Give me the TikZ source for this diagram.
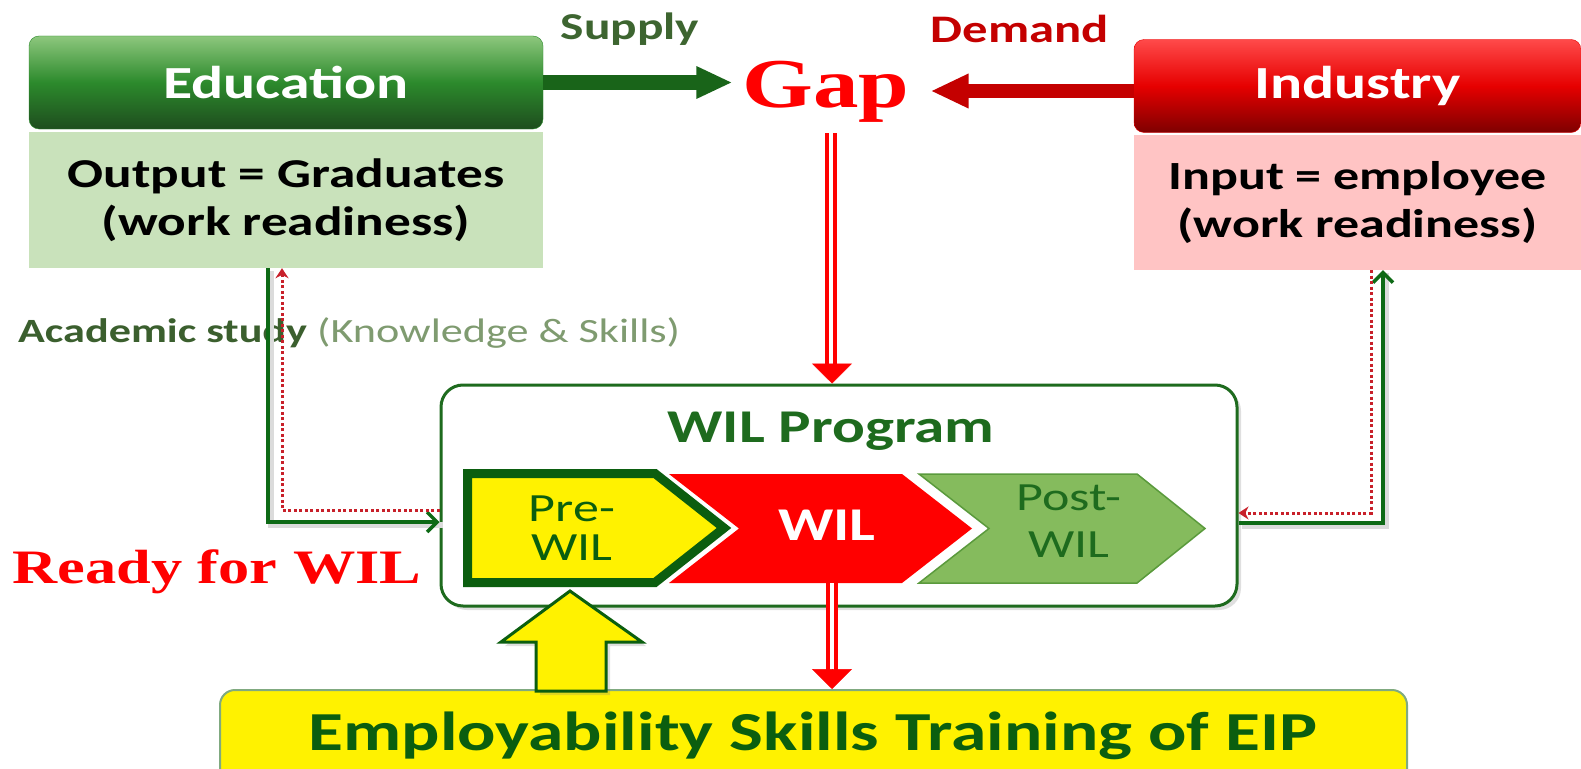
\documentclass[tikz,border=0pt]{standalone}
\usepackage{fontspec}
\setmainfont{Carlito}[FakeStretch=1.3]
\newfontfamily\timesfont{Liberation Serif}[FakeStretch=1.3]
\usepackage{tikz}
\usetikzlibrary{arrows.meta, positioning, shadows}
\usepackage{xcolor}

\definecolor{outfill}{HTML}{C9E2BB}
\definecolor{inpfill}{HTML}{FFC4C4}
\definecolor{edtop}{HTML}{8DC77D}
\definecolor{edmid}{HTML}{2C8A2C}
\definecolor{edbot}{HTML}{1E4D1E}
\definecolor{indtop}{HTML}{FF4A4A}
\definecolor{indmid}{HTML}{E60000}
\definecolor{indbot}{HTML}{7E0000}
\definecolor{supplycol}{HTML}{196419}
\definecolor{demandcol}{HTML}{C40000}
\definecolor{supplytxt}{HTML}{3D6530}
\definecolor{dkgreen}{HTML}{0B5E0F}
\definecolor{progedge}{HTML}{1E6B1E}
\definecolor{postfill}{HTML}{85BB5D}
\definecolor{postedge}{HTML}{5A9A3C}
\definecolor{empedge}{HTML}{80AA80}
\definecolor{conngreen}{HTML}{0E6A16}
\definecolor{dotred}{HTML}{C8202A}
\definecolor{acadgreen}{HTML}{3B5F2E}
\definecolor{acadlight}{HTML}{7F9B70}

\begin{document}
\begin{tikzpicture}[x=1pt, y=-1pt,
    header/.style={rounded corners=10pt, minimum width=514pt, minimum height=93pt,
        text=white, font=\fontsize{46}{55}\selectfont\bfseries},
    infobox/.style={minimum width=514pt, minimum height=136pt, align=center,
        font=\fontsize{41}{48}\selectfont\bfseries},
    shade/.style={preaction={draw=black!14, solid, line width=6pt, -,
        transform canvas={shift={(3pt,-3pt)}}}},
    gline/.style={shade, draw=conngreen, line width=3.5pt, -{Straight Barb[length=10pt,width=20pt]}},
    rline/.style={draw=dotred, line width=3pt, dash pattern=on 3pt off 2.5pt,
        -{Stealth[length=10pt,width=13pt]}},
    dbl/.style={draw=red, double=white, line width=4pt, double distance=4.5pt},
    redtip/.style={red, line width=0.5pt, -{Triangle[width=40pt,length=20pt]}}]

    \useasboundingbox (0,0) rectangle (1581,768);
    \clip (0,0) rectangle (1581,768);
    \fill[white] (0,0) rectangle (1581,768);

    % top row
    \node[header, draw=edmid, top color=edtop, bottom color=edbot, middle color=edmid] (edu) at (286,82.5) {Education};
    \node[infobox, fill=outfill] (out) at (286,200) {Output = Graduates\\(work readiness)};
    \node[header, minimum width=447pt, draw=indmid, top color=indtop, bottom color=indbot, middle color=indmid] (ind) at (1357.5,86) {Industry};
    \node[infobox, minimum width=447pt, minimum height=135pt, fill=inpfill, font=\fontsize{40}{48}\selectfont\bfseries] (inp) at (1357.5,202.5) {Input = employee\\(work readiness)};

    \node[font=\timesfont\fontsize{70}{80}\selectfont\bfseries, text=red, inner sep=0pt, anchor=base] (gap) at (826,107) {Gap};
    \node[font=\fontsize{38}{46}\selectfont\bfseries, text=supplytxt, anchor=base] (supply) at (630,40) {Supply};
    \node[font=\fontsize{39}{46}\selectfont\bfseries, text=demandcol, anchor=base] (demand) at (1020,42) {Demand};

    \draw[line width=15pt, supplycol, -{Triangle[width=30pt,length=36pt]}, shorten >=10pt] (edu.east) -- (edu.east -| gap.west);
    \draw[line width=14pt, demandcol, -{Triangle[width=32pt,length=38pt]}, shorten >=21pt] ([yshift=-5pt]ind.west) -- ([yshift=-5pt]ind.west -| gap.east);

    \node[font=\fontsize{34}{40}\selectfont, anchor=base west, inner sep=0pt] (acad) at (18,342)
        {\textcolor{acadgreen}{\bfseries Academic study} \textcolor{acadlight}{(Knowledge \& Skills)}};
    \node[font=\timesfont\fontsize{48}{56}\selectfont\bfseries, text=red, anchor=base] (ready) at (217,583) {Ready for WIL};

    % WIL program
    \node[draw=progedge, line width=3pt, fill=white, rounded corners=22pt, minimum width=796pt, minimum height=221pt,
        drop shadow={shadow xshift=4pt, shadow yshift=-4pt, opacity=0.25}] (prog) at (839,495.5) {};
    \node[font=\fontsize{47}{56}\selectfont\bfseries, text=progedge, anchor=base] (progtitle) at (831,442) {WIL Program};

    \fill[red] (669,474) -- (902,474) -- (972,528.5) -- (902,583) -- (669,583) -- (739,528.5) -- cycle;
    \draw[line width=9pt, draw=dkgreen, fill=yellow] (467.5,473.5) -- (655,473.5) -- (724,528) -- (655,582.5) -- (467.5,582.5) -- cycle;
    \draw[line width=1.5pt, draw=postedge, fill=postfill] (919,474) -- (1137,474) -- (1205,528.5) -- (1137,583) -- (919,583) -- (989,528.5) -- cycle;

    \node[align=center, font=\fontsize{40}{39}\selectfont, text=dkgreen] (pre) at (572,528) {Pre-\\WIL};
    \node[font=\fontsize{47}{56}\selectfont\bfseries, text=white] (wil) at (827,525.5) {WIL};
    \node[align=center, font=\fontsize{40}{47}\selectfont, text=progedge] (post) at (1069,521) {Post-\\WIL};
    \coordinate (wilbot) at (832,583);

    % bottom
    \node[draw=empedge, line width=2pt, fill=yellow, rounded corners=15pt, minimum width=1187pt, minimum height=100pt] (emp) at (813.5,740) {};
    \node[font=\fontsize{55}{66}\selectfont\bfseries, text=dkgreen, anchor=base] (emptext) at (813,750) {Employability Skills Training of EIP};

    \draw[line width=3pt, draw=dkgreen, fill=yellow, drop shadow={shadow xshift=4pt, shadow yshift=-4pt, opacity=0.25}]
        (570,591) -- (642,642) -- (606,642) -- (606,691) -- (536,691) -- (536,642) -- (501,642) -- cycle;

    % gap arrows
    \draw[dbl, shorten <=11pt, shorten >=18pt] ([xshift=5pt]gap.south) -- ([xshift=5pt]gap.south |- prog.north);
    \draw[redtip] ([yshift=20pt]prog.north -| wilbot) -- (prog.north -| wilbot);
    \draw[dbl, shorten >=18pt] (wilbot) -- (wilbot |- emp.north);
    \draw[redtip] ([yshift=20pt]emp.north -| wilbot) -- (emp.north -| wilbot);

    % side loops
    \draw[gline] ([xshift=-18pt]out.south) |- ([yshift=-26.5pt]prog.west);
    \draw[rline] ([yshift=-14.5pt]prog.west) -| ([xshift=-4pt]out.south);
    \draw[gline] ([yshift=-27.5pt]prog.east) -| ([xshift=25.5pt]inp.south);
    \draw[rline] ([xshift=13.5pt]inp.south) |- ([yshift=-17.5pt]prog.east);
\end{tikzpicture}
\end{document}
